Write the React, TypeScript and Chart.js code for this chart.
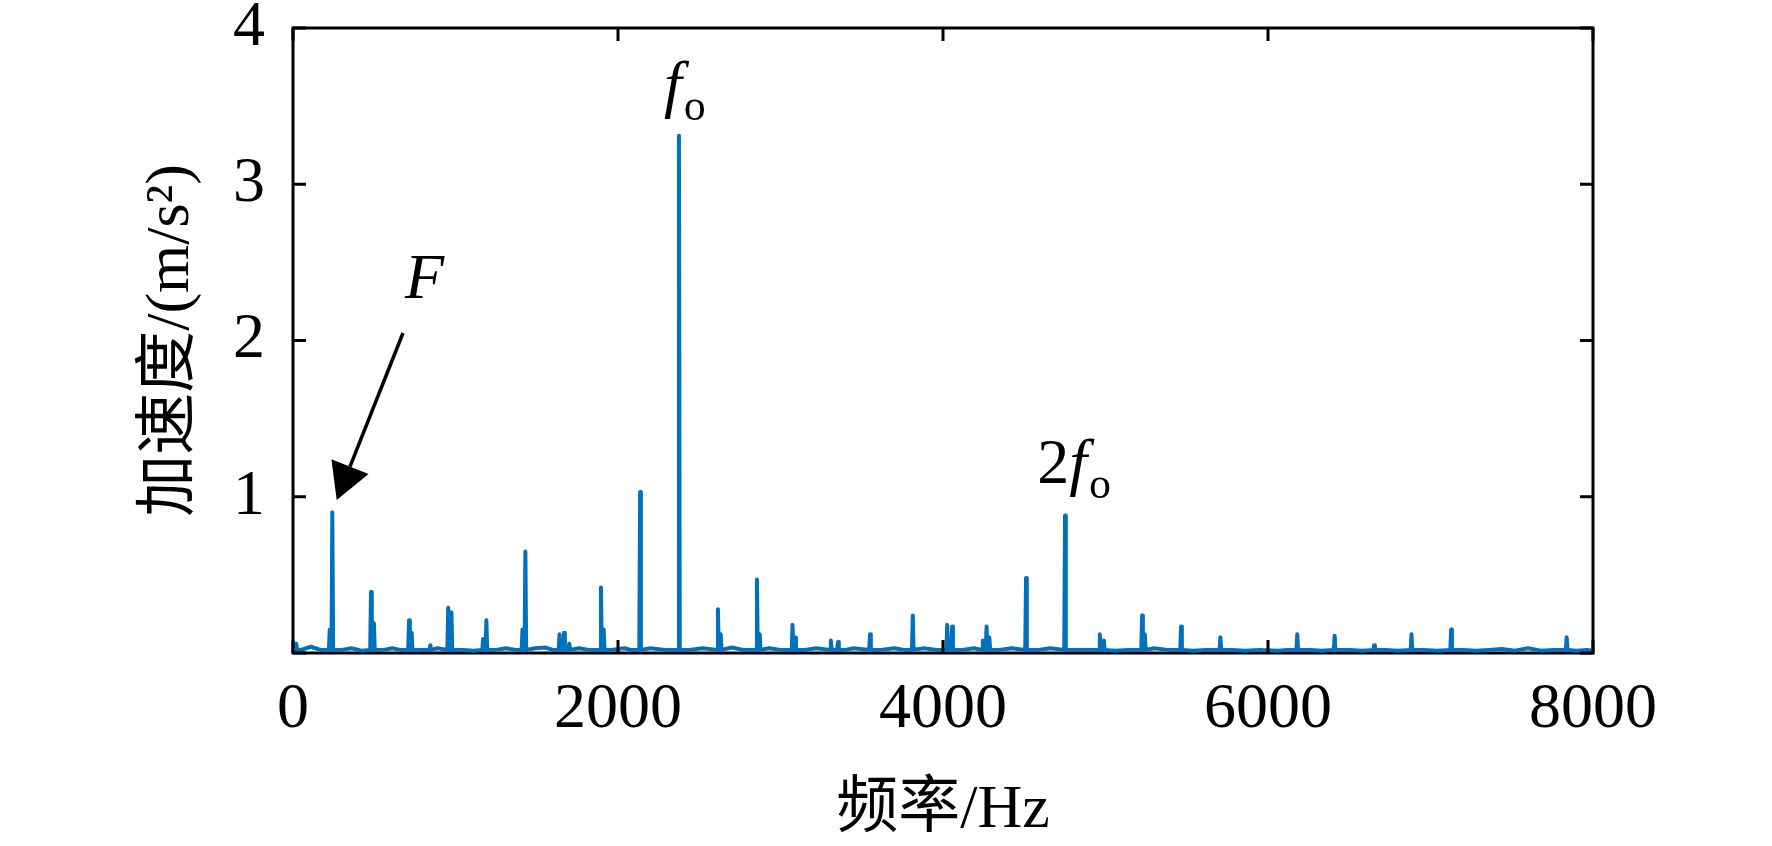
import { useEffect, useRef } from 'react';
import { Chart, registerables } from 'chart.js';
import type { Plugin } from 'chart.js';

Chart.register(...registerables);

const BLUE = '#0072BD';
const SERIF = "'Liberation Serif', 'Times New Roman', 'Noto Sans CJK SC', serif";

// spectral lines: frequency (Hz) and amplitude (m/s^2)
const peakFreq = [
  20, 226, 242, 480, 498, 714, 730, 845, 955, 975,
  1170, 1190, 1412, 1430, 1640, 1668, 1700, 1895, 1912, 2136,
  2375, 2615, 2632, 2855, 2872, 3074, 3090, 3310, 3354, 3551,
  3814, 4026, 4056, 4245, 4268, 4285, 4511, 4751, 4965, 4990,
  5225, 5242, 5465, 5707, 6180, 6410, 6653, 6883, 7127, 7838,
];
const peakAmp = [
  0.06, 0.15, 0.9, 0.39, 0.19, 0.21, 0.13, 0.05, 0.29, 0.26,
  0.09, 0.21, 0.15, 0.65, 0.12, 0.13, 0.06, 0.42, 0.15, 1.03,
  3.31, 0.28, 0.12, 0.47, 0.12, 0.18, 0.1, 0.08, 0.07, 0.12,
  0.24, 0.18, 0.17, 0.08, 0.17, 0.1, 0.48, 0.88, 0.12, 0.08,
  0.24, 0.12, 0.17, 0.1, 0.12, 0.11, 0.05, 0.12, 0.15, 0.1,
];

// noise floor between the lines
const floorFreq = [
  0, 50, 110, 170, 300, 360, 420, 560, 610, 660,
  780, 890, 1050, 1110, 1250, 1310, 1370, 1490, 1550, 1600,
  1760, 1820, 1960, 2040, 2080, 2200, 2290, 2440, 2520, 2700,
  2770, 2930, 3000, 3150, 3220, 3400, 3450, 3620, 3700, 3760,
  3880, 3960, 4120, 4190, 4350, 4420, 4590, 4660, 4830, 4900,
  5060, 5140, 5300, 5380, 5540, 5620, 5780, 5860, 5950, 6060,
  6120, 6260, 6330, 6500, 6580, 6720, 6800, 6960, 7040, 7200,
  7280, 7360, 7440, 7520, 7600, 7680, 7760, 7900, 7960, 8000,
];
const floorAmp = [
  0.03, 0.02, 0.04, 0.02, 0.02, 0.03, 0.015, 0.02, 0.03, 0.02,
  0.02, 0.03, 0.02, 0.015, 0.02, 0.03, 0.02, 0.03, 0.035, 0.02,
  0.03, 0.02, 0.02, 0.03, 0.02, 0.03, 0.02, 0.02, 0.03, 0.035,
  0.02, 0.03, 0.02, 0.02, 0.03, 0.02, 0.03, 0.02, 0.03, 0.02,
  0.03, 0.02, 0.02, 0.03, 0.02, 0.03, 0.02, 0.03, 0.02, 0.02,
  0.015, 0.02, 0.03, 0.02, 0.015, 0.02, 0.02, 0.015, 0.02, 0.015,
  0.02, 0.02, 0.015, 0.02, 0.015, 0.02, 0.015, 0.02, 0.015, 0.02,
  0.015, 0.02, 0.025, 0.015, 0.03, 0.015, 0.02, 0.015, 0.02, 0.015,
];
const SPIKE_BASE = 0.02;
const SPIKE_HALF_WIDTH = 5; // Hz

// annotations, in data units
const harmonicPrefix = ['', '2'];
const harmonicLabelX = [2283, 4580];
const harmonicLabelY = [3.51, 1.088];
const faultLabel = { x: 689, y: 2.27 };
const arrowFrom = { x: 677, y: 2.048 };
const arrowTo = { x: 269, y: 0.979 };

const spectrum = [
  ...floorFreq.map((x, i) => ({ x, y: floorAmp[i] })),
  ...peakFreq.flatMap((f, i) => [
    { x: f - SPIKE_HALF_WIDTH, y: SPIKE_BASE },
    { x: f, y: peakAmp[i] },
    { x: f + SPIKE_HALF_WIDTH, y: SPIKE_BASE },
  ]),
].sort((a, b) => a.x - b.x);

const TICK = 13;

const framePlugin: Plugin<'line'> = {
  id: 'frame',
  beforeDatasetsDraw(chart) {
    const { ctx, chartArea: a } = chart;
    ctx.save();
    ctx.strokeStyle = '#000';
    ctx.lineWidth = 3;
    ctx.strokeRect(a.left, a.top, a.right - a.left, a.bottom - a.top);
    ctx.restore();
  },
  afterDatasetsDraw(chart) {
    const { ctx, chartArea: a } = chart;
    const xs = chart.scales.x;
    const ys = chart.scales.y;
    ctx.save();
    ctx.strokeStyle = '#000';
    ctx.lineWidth = 3;
    ctx.beginPath();
    for (const t of xs.ticks) {
      const px = xs.getPixelForValue(t.value);
      ctx.moveTo(px, a.bottom);
      ctx.lineTo(px, a.bottom - TICK);
      ctx.moveTo(px, a.top);
      ctx.lineTo(px, a.top + TICK);
    }
    for (const t of ys.ticks) {
      const py = ys.getPixelForValue(t.value);
      ctx.moveTo(a.left, py);
      ctx.lineTo(a.left + TICK, py);
      ctx.moveTo(a.right, py);
      ctx.lineTo(a.right - TICK, py);
    }
    ctx.stroke();

    ctx.fillStyle = '#000';
    ctx.textAlign = 'left';
    ctx.textBaseline = 'alphabetic';

    // f_o and 2f_o
    harmonicLabelX.forEach((hx, i) => {
      let px = xs.getPixelForValue(hx);
      const py = ys.getPixelForValue(harmonicLabelY[i]);
      if (harmonicPrefix[i]) {
        ctx.font = `64px ${SERIF}`;
        ctx.fillText(harmonicPrefix[i], px, py);
        px += ctx.measureText(harmonicPrefix[i]).width;
      }
      ctx.font = `italic 64px ${SERIF}`;
      ctx.fillText('f', px, py);
      px += ctx.measureText('f').width + 2;
      ctx.font = `44px ${SERIF}`;
      ctx.fillText('o', px, py + 15);
    });

    // F with arrow
    ctx.font = `italic 64px ${SERIF}`;
    ctx.fillText('F', xs.getPixelForValue(faultLabel.x), ys.getPixelForValue(faultLabel.y));

    const x0 = xs.getPixelForValue(arrowFrom.x);
    const y0 = ys.getPixelForValue(arrowFrom.y);
    const x1 = xs.getPixelForValue(arrowTo.x);
    const y1 = ys.getPixelForValue(arrowTo.y);
    const len = Math.hypot(x0 - x1, y0 - y1);
    const ux = (x0 - x1) / len;
    const uy = (y0 - y1) / len;
    const headLen = 36;
    const headHalf = 20;
    const bx = x1 + ux * headLen;
    const by = y1 + uy * headLen;
    ctx.lineWidth = 3.5;
    ctx.beginPath();
    ctx.moveTo(x0, y0);
    ctx.lineTo(bx, by);
    ctx.stroke();
    ctx.beginPath();
    ctx.moveTo(x1, y1);
    ctx.lineTo(bx - uy * headHalf, by + ux * headHalf);
    ctx.lineTo(bx + uy * headHalf, by - ux * headHalf);
    ctx.closePath();
    ctx.fill();
    ctx.restore();
  },
};

export default function App() {
  const canvasRef = useRef<HTMLCanvasElement | null>(null);

  useEffect(() => {
    document.body.style.margin = '0';
    if (!canvasRef.current) {
      return;
    }

    const chart = new Chart(canvasRef.current, {
      type: 'line',
      data: {
        datasets: [
          {
            data: spectrum,
            borderColor: BLUE,
            borderWidth: 4,
            pointRadius: 0,
            tension: 0,
            borderJoinStyle: 'round',
            clip: 4,
          },
        ],
      },
      options: {
        responsive: false,
        animation: false,
        events: [],
        layout: { padding: { left: 0, top: 28, right: 179, bottom: 0 } },
        plugins: {
          legend: { display: false },
          tooltip: { enabled: false },
        },
        scales: {
          x: {
            type: 'linear',
            min: 0,
            max: 8000,
            grid: { display: false },
            border: { display: false },
            ticks: {
              stepSize: 2000,
              autoSkip: false,
              maxRotation: 0,
              padding: 17,
              color: '#000',
              font: { family: SERIF, size: 64, lineHeight: 1 },
              callback: (v) => String(v),
            },
            title: {
              display: true,
              text: '频率/Hz',
              color: '#000',
              font: { family: SERIF, size: 62, lineHeight: 1 },
              padding: { top: 0, bottom: 4 },
            },
            afterFit: (s) => {
              s.height = 193;
              s.paddingLeft = 0;
              s.paddingRight = 0;
            },
          },
          y: {
            type: 'linear',
            min: 0,
            max: 4,
            grid: { display: false },
            border: { display: false },
            ticks: {
              stepSize: 1,
              padding: 20,
              color: '#000',
              font: { family: SERIF, size: 64, lineHeight: 1 },
              callback: (v) => (Number(v) === 0 ? '' : String(v)),
            },
            title: {
              display: true,
              text: '加速度/(m/s²)',
              color: '#000',
              font: { family: SERIF, size: 62, lineHeight: 1 },
              padding: { top: 141, bottom: 0 },
            },
            afterFit: (s) => {
              s.width = 293;
              s.paddingTop = 0;
              s.paddingBottom = 0;
            },
          },
        },
      },
      plugins: [framePlugin],
    });

    return () => {
      chart.destroy();
    };
  }, []);

  return (
    <canvas
      ref={canvasRef}
      width={1772}
      height={846}
      style={{ display: 'block', width: 1772, height: 846 }}
    />
  );
}
